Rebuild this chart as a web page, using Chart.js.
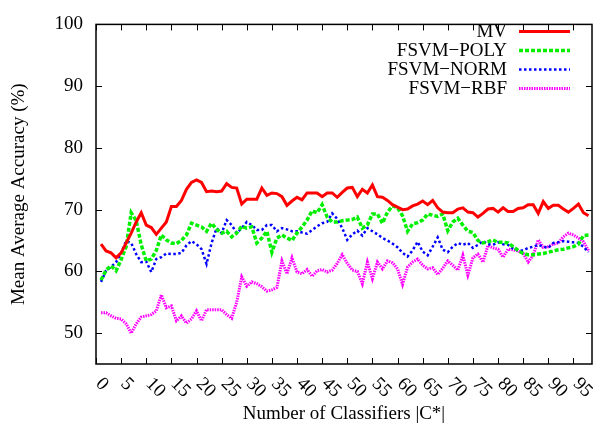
<!DOCTYPE html>
<html>
<head>
<meta charset="utf-8">
<script src="https://cdn.jsdelivr.net/npm/chart.js@4.4.1/dist/chart.umd.min.js"></script>
<style>
  html, body { margin: 0; padding: 0; background: #fff; }
  #wrap { width: 593px; height: 430px; }
</style>
</head>
<body>
<div id="wrap"><canvas id="accChart" width="593" height="430"></canvas></div>
<script>
// valores (x = 1..98 clasificadores)
const seriesNames = ['MV', 'FSVM\u2212POLY', 'FSVM\u2212NORM', 'FSVM\u2212RBF'];

const mv = [64.4, 63.3, 63.0, 62.2, 63.0, 64.6, 66.2, 68.0, 69.5, 67.5,
  67.1, 66.0, 67.0, 68.0, 70.5, 70.5, 71.5, 73.3, 74.4, 74.8,
  74.4, 72.9, 73.0, 72.9, 73.0, 74.2, 73.6, 73.5, 70.9, 71.7,
  71.7, 71.7, 73.5, 72.3, 72.7, 72.6, 72.1, 70.7, 71.4, 72.0,
  71.6, 72.7, 72.7, 72.7, 72.1, 72.7, 72.7, 72.0, 72.8, 73.5,
  73.6, 72.1, 73.3, 72.7, 74.0, 72.1, 72.0, 71.5, 70.8, 70.4,
  70.0, 70.1, 70.6, 70.9, 71.4, 70.8, 71.5, 70.3, 69.6, 69.5,
  69.5, 70.1, 70.3, 69.6, 69.5, 68.8, 69.4, 70.1, 70.2, 69.6,
  70.3, 69.7, 69.7, 70.2, 70.3, 70.8, 70.8, 69.4, 71.3, 70.2,
  70.7, 70.7, 70.1, 69.6, 70.2, 70.9, 69.5, 69.0];

const poly = [58.6, 60.2, 60.9, 60.1, 61.9, 64.0, 69.5, 68.2, 64.3, 61.7,
  62.0, 63.4, 65.9, 65.1, 64.6, 64.5, 65.0, 65.9, 67.8, 67.5,
  67.2, 66.5, 67.8, 66.8, 66.2, 66.5, 65.6, 66.2, 67.3, 67.0,
  67.2, 64.6, 65.4, 66.5, 63.1, 65.4, 65.9, 65.4, 65.0, 66.2,
  67.2, 68.3, 69.8, 69.5, 70.8, 68.8, 68.0, 68.0, 68.2, 68.3,
  68.4, 68.8, 67.0, 67.5, 69.3, 69.3, 67.8, 69.6, 70.6, 70.3,
  69.0, 66.5, 67.7, 67.9, 68.3, 69.3, 69.1, 68.9, 69.3, 66.6,
  68.0, 68.6, 67.5, 66.5, 66.3, 65.0, 64.6, 64.8, 65.1, 64.7,
  64.7, 64.6, 64.0, 63.4, 62.9, 62.7, 62.7, 62.8, 62.9, 63.1,
  63.3, 63.5, 63.6, 63.8, 64.0, 64.4, 65.8, 65.9];

const norm = [58.3, 60.1, 60.7, 61.5, 63.0, 64.9, 64.6, 62.8, 61.5, 61.6,
  59.9, 62.0, 62.3, 62.9, 62.8, 62.8, 63.0, 64.2, 64.9, 64.4,
  63.6, 61.2, 64.6, 67.0, 66.2, 68.3, 67.5, 66.2, 67.0, 68.0,
  67.5, 66.7, 66.7, 67.5, 67.5, 66.5, 67.0, 66.8, 66.5, 66.5,
  66.3, 66.1, 66.7, 67.3, 67.8, 68.0, 69.4, 68.5, 67.0, 65.1,
  66.0, 66.6, 65.8, 67.0, 66.5, 66.0, 65.4, 65.0, 64.5, 63.9,
  63.0, 62.4, 63.4, 64.8, 63.2, 62.6, 64.0, 65.5, 63.5, 63.1,
  64.0, 64.6, 64.3, 64.6, 63.8, 64.3, 64.9, 64.4, 64.3, 64.7,
  64.4, 64.3, 63.7, 63.4, 63.4, 63.8, 64.0, 64.3, 64.0, 63.8,
  64.6, 64.7, 64.9, 64.8, 64.7, 64.6, 64.0, 63.1];

const rbf = [53.3, 53.3, 52.8, 52.4, 52.3, 51.5, 50.0, 51.5, 52.6, 52.8,
  53.0, 53.6, 56.2, 54.1, 54.4, 52.0, 52.8, 51.6, 52.3, 53.6,
  52.0, 53.8, 53.8, 53.8, 53.8, 53.0, 52.4, 55.0, 59.1, 57.6,
  58.3, 58.0, 57.5, 56.8, 57.0, 57.4, 61.7, 59.6, 62.2, 59.9,
  59.6, 60.3, 59.2, 60.1, 60.3, 59.9, 60.2, 61.3, 62.7, 61.3,
  60.2, 60.0, 58.0, 61.5, 58.8, 61.5, 60.4, 61.7, 61.4, 60.4,
  57.9, 60.7, 61.5, 62.0, 61.0, 60.4, 60.6, 59.5, 60.5, 61.7,
  61.0, 60.2, 62.6, 59.4, 62.2, 62.8, 61.5, 64.2, 63.8, 63.6,
  62.3, 63.6, 63.5, 63.3, 62.9, 61.5, 62.6, 65.1, 63.9, 64.0,
  64.4, 64.6, 65.6, 66.2, 65.9, 65.4, 64.8, 63.4];

const counts = mv.map((_, i) => i + 1);
const xTicks = [0, 5, 10, 15, 20, 25, 30, 35, 40, 45, 50, 55, 60, 65, 70, 75, 80, 85, 90, 95];
const yTicks = [50, 60, 70, 80, 90, 100];

const FONT = '"Liberation Serif", "Times New Roman", serif';

const estilos = [
  { color: '#ff0000', width: 3, dash: [] },
  { color: '#00f000', width: 3.5, dash: [4, 2] },
  { color: '#0000ff', width: 2.5, dash: [2.5, 2.5] },
  { color: '#ff00ff', width: 3, dash: [1.5, 1] }
];

const valores = [mv, poly, norm, rbf];

const datasets = valores.map((serie, k) => ({
  label: seriesNames[k],
  data: serie.map((v, i) => ({ x: counts[i], y: v })),
  borderColor: estilos[k].color,
  borderWidth: estilos[k].width,
  borderDash: estilos[k].dash,
  pointRadius: 0,
  tension: 0,
  fill: false
}));

// marco, ticks hacia dentro, etiquetas rotadas, titulos y leyenda
const estiloGnuplot = {
  id: 'estiloGnuplot',
  afterDraw(chart) {
    const { ctx, chartArea: a, scales } = chart;
    const sx = scales.x, sy = scales.y;
    ctx.save();
    ctx.strokeStyle = '#000';
    ctx.lineWidth = 1.5;
    ctx.setLineDash([]);
    ctx.strokeRect(a.left, a.top, a.right - a.left, a.bottom - a.top);

    ctx.lineWidth = 1;
    ctx.beginPath();
    xTicks.forEach(t => {
      const px = Math.round(sx.getPixelForValue(t)) + 0.5;
      ctx.moveTo(px, a.bottom); ctx.lineTo(px, a.bottom - 6);
      ctx.moveTo(px, a.top); ctx.lineTo(px, a.top + 6);
    });
    yTicks.forEach(t => {
      const py = Math.round(sy.getPixelForValue(t)) + 0.5;
      ctx.moveTo(a.left, py); ctx.lineTo(a.left + 6, py);
      ctx.moveTo(a.right, py); ctx.lineTo(a.right - 6, py);
    });
    ctx.stroke();

    ctx.fillStyle = '#000';
    ctx.font = '19px ' + FONT;
    ctx.textAlign = 'left';
    ctx.textBaseline = 'middle';
    xTicks.forEach(t => {
      const px = sx.getPixelForValue(t);
      ctx.save();
      ctx.translate(px + 2.5, a.bottom + 17);
      ctx.rotate(Math.PI / 4);
      ctx.fillText(String(t), 0, 0);
      ctx.restore();
    });

    ctx.textAlign = 'center';
    ctx.fillText('Number of Classifiers |C*|', (a.left + a.right) / 2, 414);
    ctx.save();
    ctx.translate(19, (a.top + a.bottom) / 2);
    ctx.rotate(-Math.PI / 2);
    ctx.fillText('Mean Average Accuracy (%)', 0, 0);
    ctx.restore();

    // leyenda
    ctx.textAlign = 'right';
    seriesNames.forEach((nombre, k) => {
      const y = 32 + k * 19;
      ctx.fillStyle = '#000';
      ctx.fillText(nombre, 507, y);
      ctx.strokeStyle = estilos[k].color;
      ctx.lineWidth = estilos[k].width;
      ctx.setLineDash(estilos[k].dash);
      ctx.beginPath();
      ctx.moveTo(519, y - 0.5);
      ctx.lineTo(570, y - 0.5);
      ctx.stroke();
    });
    ctx.restore();
  }
};

const ctx = document.getElementById('accChart').getContext('2d');
window.myChart = new Chart(ctx, {
  type: 'line',
  data: { datasets: datasets },
  options: {
    responsive: false,
    animation: false,
    layout: { padding: { top: 16, right: 1, left: 0, bottom: 0 } },
    plugins: { legend: { display: false }, tooltip: { enabled: false } },
    scales: {
      x: {
        type: 'linear',
        min: 0,
        max: 98.7,
        grid: { display: false },
        border: { display: false },
        ticks: { display: false },
        afterBuildTicks: s => { s.ticks = xTicks.map(v => ({ value: v })); },
        afterFit: s => { s.height = 66; }
      },
      y: {
        min: 45,
        max: 100,
        grid: { display: false, drawTicks: false },
        border: { display: false },
        ticks: {
          color: '#000',
          padding: 13,
          font: { family: FONT, size: 19 }
        },
        afterBuildTicks: s => { s.ticks = yTicks.map(v => ({ value: v })); },
        afterFit: s => { s.width = 96; }
      }
    }
  },
  plugins: [estiloGnuplot]
});
</script>
</body>
</html>
